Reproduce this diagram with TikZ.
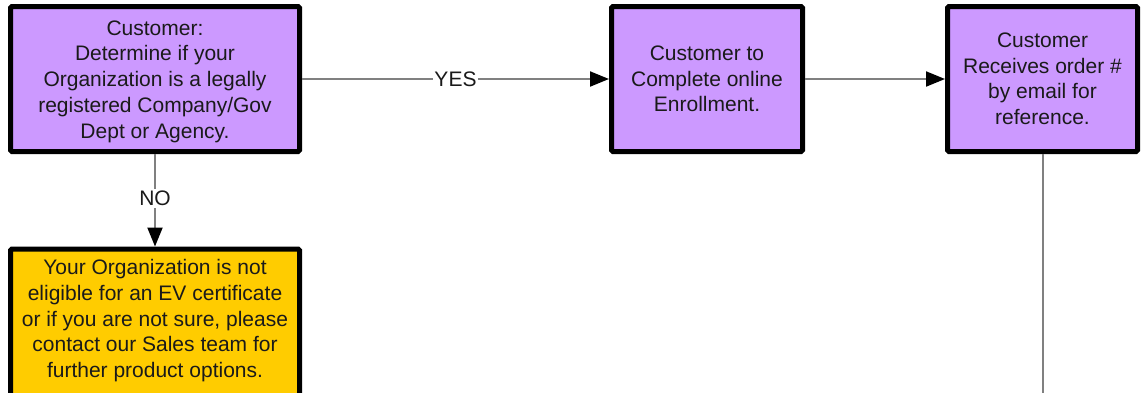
\documentclass[tikz,border=0pt]{standalone}
\usepackage{fontspec}
\setmainfont{Liberation Sans}
\usetikzlibrary{arrows.meta}
\definecolor{boxpurple}{HTML}{CC99FF}
\definecolor{boxyellow}{HTML}{FFCC00}
\definecolor{linegray}{HTML}{808080}
\definecolor{txtcol}{HTML}{1A1A1A}
\begin{document}
\begin{tikzpicture}[x=1pt,y=1pt,
  boxbase/.style={draw=black, line width=5pt, rounded corners=1.5pt, inner sep=0pt,
    align=center, text=txtcol, font=\fontsize{21}{25.5}\selectfont},
  purplebox/.style={boxbase, fill=boxpurple},
  yellowbox/.style={boxbase, fill=boxyellow},
  plaintext/.style={align=center, text=txtcol, font=\fontsize{21}{25.75}\selectfont, inner sep=0pt},
  conn/.style={draw=linegray, line width=2pt},
  arr/.style={conn, -{Triangle[length=19pt,width=15pt,fill=black,color=black]}},
  lbl/.style={fill=white, text=txtcol, font=\fontsize{21}{25}\selectfont, inner xsep=1pt, inner ysep=2pt}
]
\useasboundingbox (0,0) rectangle (1142,-392);
\begin{scope}
\clip (0,0) rectangle (1142,-392);
\node[purplebox, minimum width=289pt, minimum height=145pt, font=\fontsize{21}{25.75}\selectfont] (det) at (155,-79)
  {\rule{0pt}{19.5pt}Customer:\\Determine if your\\Organization is a legally\\registered Company/Gov\\Dept or Agency.};
\node[purplebox, minimum width=191pt, minimum height=145pt] (enr) at (707,-79)
  {Customer to\\Complete online\\Enrollment.};
\node[purplebox, minimum width=190pt, minimum height=145pt] (rcv) at (1042.5,-79)
  {Customer\\Receives order \#\\by email for\\reference.};
\node[yellowbox, anchor=north, minimum width=289pt, minimum height=190pt] (no) at (155,-246.5) {};
\node[plaintext] (notext) at (155,-320.7)
  {Your Organization is not\\eligible for an EV certificate\\or if you are not sure, please\\contact our Sales team for\\further product options.};
\coordinate (down) at (1043,-400);
\draw[arr] (det.east) -- node[lbl, pos=0.5] (yes) {YES} (enr.west);
\draw[arr] (enr.east) -- (rcv.west);
\draw[arr] (det.south) -- node[lbl, pos=0.48] (nolbl) {NO} (no.north);
\draw[conn] (rcv.south -| down) -- (down);
\end{scope}
\end{tikzpicture}
\end{document}
